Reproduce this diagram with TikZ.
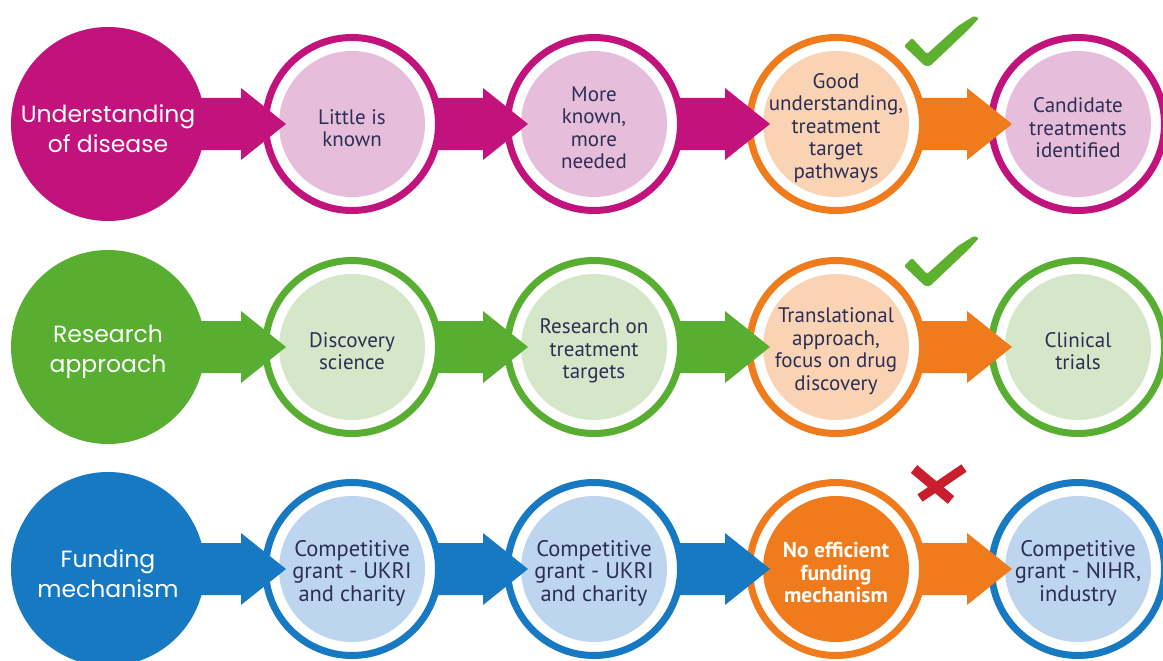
\documentclass[tikz,border=0pt]{standalone}
\usepackage{fontspec}
\usetikzlibrary{calc}
\newfontfamily\bigf{Poppins}
\newfontfamily\smf{PT Sans}
\definecolor{mag}{HTML}{C2127C}
\definecolor{magl}{HTML}{E6BEDB}
\definecolor{grn}{HTML}{58AE31}
\definecolor{grnl}{HTML}{D6E7C9}
\definecolor{blu}{HTML}{1779C2}
\definecolor{blul}{HTML}{BDD5EE}
\definecolor{org}{HTML}{EF7B1C}
\definecolor{orgl}{HTML}{F9D3B3}
\definecolor{navy}{HTML}{2D2E54}
\definecolor{chk}{HTML}{5DB12F}
\definecolor{crs}{HTML}{C81E2D}
\tikzset{
  bigc/.style={circle, minimum size=194pt, inner sep=0pt, fill=#1},
  bigtxt/.style={text=white, font=\bigf\fontsize{23.5}{30}\selectfont, align=center, inner sep=0pt},
  ringc/.style 2 args={circle, minimum size=173pt, inner sep=0pt, draw=#1,
    line width=7pt, fill=white,
    path picture={\fill[#2] (path picture bounding box.center) circle[radius=73pt];}},
  smtxt/.style={text=navy, font=\smf\fontsize{21}{22.5}\selectfont, align=center, inner sep=0pt},
  fundtxt/.style={text=navy, font=\smf\fontsize{22.5}{22.5}\selectfont, align=center, inner sep=0pt},
}
% \flowarr[start offset]{colour}{from}{to}
\newcommand\flowarr[4][84]{%
  \fill[#2] ($(#3.center)+(#1,-26)$) -- ($(#4.center)+(-111,-26)$)
    -- ($(#4.center)+(-111,-36)$) -- ($(#4.center)+(-66,0)$)
    -- ($(#4.center)+(-111,36)$) -- ($(#4.center)+(-111,26)$)
    -- ($(#3.center)+(#1,26)$) -- cycle;}
\newcommand\checkmk[1]{%
  \fill[chk, rounded corners=1.5pt, shift={(0,#1)}] (904,46) -- (912,38) -- (927,54)
    -- (958,26) -- (974,16) -- (979,18) -- (968,30) -- (930,66) -- (925,66) -- cycle;}
% \stagec{name}{x}{y}{ring}{fill}{textstyle}{text}
\newcommand\stagec[7]{%
  \node[ringc={#4}{#5}] (#1) at (#2,#3) {};
  \node[#6] (#1t) at ($(#1.center)+(0,4)$) {#7};}
\newcommand\bigstage[5]{%
  \node[bigc=#4] (#1) at (#2,#3) {};
  \node[bigtxt] (#1t) at ($(#1.center)+(0,5)$) {#5};}
\begin{document}
\begin{tikzpicture}[x=1pt,y=-1pt]
\useasboundingbox (0,0) rectangle (1163,661);
\clip (0,0) rectangle (1163,661);
\fill[white] (0,0) rectangle (1163,661);

% Row 1
\bigstage{u0}{108}{124}{mag}{Understanding\\of disease}
\stagec{u1}{352}{124}{mag}{magl}{smtxt}{Little is\\known}
\stagec{u2}{594}{124}{mag}{magl}{smtxt}{More\\known,\\more\\needed}
\stagec{u3}{836}{124}{org}{orgl}{smtxt}{Good\\understanding,\\treatment\\target\\pathways}
\stagec{u4}{1078}{124}{mag}{magl}{smtxt}{Candidate\\treatments\\identified}
\flowarr[93]{mag}{u0}{u1}
\flowarr{mag}{u1}{u2}
\flowarr{mag}{u2}{u3}
\flowarr{org}{u3}{u4}
\checkmk{0}

% Row 2
\bigstage{r0}{108}{347}{grn}{Research\\approach}
\stagec{r1}{352}{347}{grn}{grnl}{smtxt}{Discovery\\science}
\stagec{r2}{594}{347}{grn}{grnl}{smtxt}{Research on\\treatment\\targets}
\stagec{r3}{836}{347}{org}{orgl}{smtxt}{Translational\\approach,\\focus on drug\\discovery}
\stagec{r4}{1078}{347}{grn}{grnl}{smtxt}{Clinical\\trials}
\flowarr[93]{grn}{r0}{r1}
\flowarr{grn}{r1}{r2}
\flowarr{grn}{r2}{r3}
\flowarr{org}{r3}{r4}
\checkmk{220}

% Row 3
\bigstage{f0}{108}{569}{blu}{Funding\\mechanism}
\stagec{f1}{352}{569}{blu}{blul}{fundtxt}{Competitive\\grant - UKRI\\and charity}
\stagec{f2}{594}{569}{blu}{blul}{fundtxt}{Competitive\\grant - UKRI\\and charity}
\stagec{f3}{836}{569}{org}{org}{fundtxt, text=white, font=\smf\bfseries\fontsize{21.5}{22.5}\selectfont}{No efficient\\funding\\mechanism}
\stagec{f4}{1078}{569}{blu}{blul}{fundtxt}{Competitive\\grant - NIHR,\\industry}
\flowarr[93]{blu}{f0}{f1}
\flowarr{blu}{f1}{f2}
\flowarr{blu}{f2}{f3}
\flowarr{org}{f3}{f4}
\draw[crs, line width=10pt] (914,469) -- (951,500);
\draw[crs, line width=9pt] (920,498) -- (964,468);
\end{tikzpicture}
\end{document}
